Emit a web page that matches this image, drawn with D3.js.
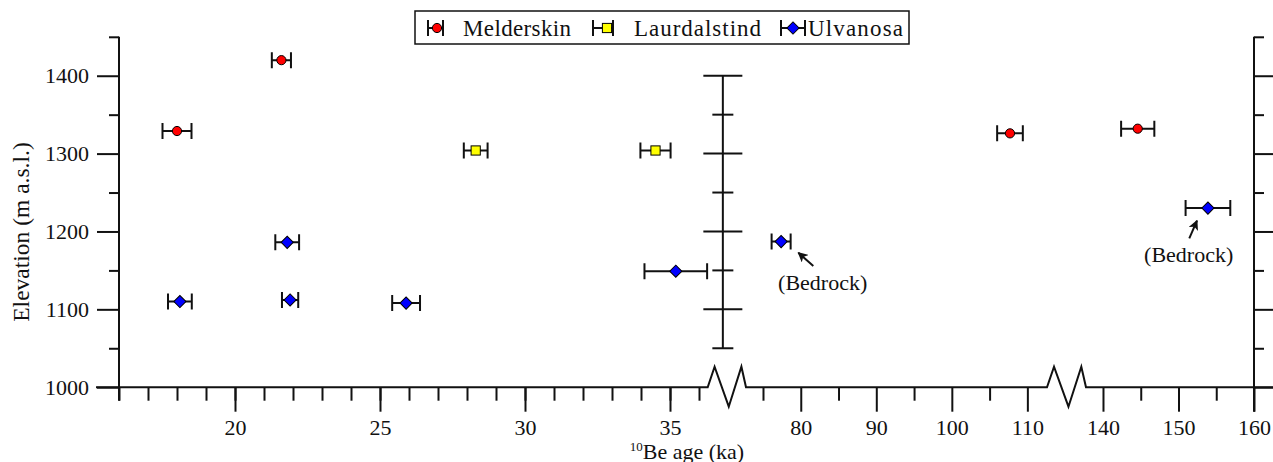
<!DOCTYPE html>
<html>
<head>
<meta charset="utf-8">
<script src="https://cdn.jsdelivr.net/npm/d3@7"></script>
<style>
  html, body { margin: 0; padding: 0; background: #fff; }
  svg { display: block; }
</style>
</head>
<body>
<svg id="chart" width="1273" height="462"></svg>
<script>
// ages in ka, 1-sigma errors in ka, elevations in m a.s.l.
const melderskinAge = [21.6, 18.0, 107.7, 144.6];
const melderskinErr = [0.33, 0.5, 1.7, 2.2];
const melderskinElev = [1420, 1329, 1326, 1332];

const laurdalstindAge = [28.3, 34.5];
const laurdalstindErr = [0.41, 0.52];
const laurdalstindElev = [1304, 1304];

const ulvanosaAge = [21.8, 18.1, 21.9, 25.9, 35.2, 77.4, 153.9];
const ulvanosaErr = [0.41, 0.41, 0.28, 0.48, 1.08, 1.26, 2.96];
const ulvanosaElev = [1186, 1110, 1112, 1108, 1149, 1187, 1230];

const seriesNames = ['Melderskin', 'Laurdalstind', 'Ulvanosa'];

// x axis pieces (broken axis)
const segDomains = [[16, 36.3], [72.75, 112.6], [137.75, 160]];
const segMajor = [[20, 25, 30, 35], [80, 90, 100, 110], [140, 150, 160]];
const segMinor = [d3.range(16, 37), [75, 85, 95, 105], [145, 155]];

const yMajor = [1000, 1100, 1200, 1300, 1400];
const yMinor = [1050, 1150, 1250, 1350, 1450];
const midMajor = [1100, 1200, 1300, 1400];
const midMinor = [1050, 1150, 1250, 1350];

// bedrock notes: [label x, label y, arrow tail x, tail y, tip x, tip y]
const notes = [
  [82.9, 1125, 81.66, 1155.6, 79.68, 1172.7],
  [151.35, 1160.8, 151.43, 1191.2, 152.45, 1213.8]
];

const FONT = '"Liberation Serif", "Times New Roman", serif';
const svg = d3.select('#chart');

const y = d3.scaleLinear().domain([1000, 1450]).range([387.2, 36.8]);
const segs = [
  d3.scaleLinear().domain(segDomains[0]).range([119, 707.7]),
  d3.scaleLinear().domain(segDomains[1]).range([746, 1047]),
  d3.scaleLinear().domain(segDomains[2]).range([1086, 1254])
];
const x = function (v) {
  if (v <= segDomains[0][1]) return segs[0](v);
  if (v <= segDomains[1][1]) return segs[1](v);
  return segs[2](v);
};

const y0 = y(1000);
const axisColor = '#111';

// ---- x axis line with zigzag breaks
const zig = function (x0, x1) {
  const w = x1 - x0;
  return [[x0, y0], [x0 + 0.18 * w, y0 - 20.5], [x0 + 0.55 * w, y0 + 19.5], [x0 + 0.88 * w, y0 - 20.5], [x1, y0]];
};
const axisPts = [[96, y0]]
  .concat(zig(segs[0].range()[1], segs[1].range()[0]))
  .concat(zig(segs[1].range()[1], segs[2].range()[0]))
  .concat([[1273, y0]]);
svg.append('path')
  .attr('d', d3.line()(axisPts))
  .attr('fill', 'none')
  .attr('stroke', axisColor)
  .attr('stroke-width', 2)
  .attr('stroke-linejoin', 'miter');

segs.forEach((s, i) => {
  const gMin = svg.append('g')
    .attr('transform', 'translate(0,' + y0 + ')')
    .call(d3.axisBottom(s).tickValues(segMinor[i]).tickSize(13.5).tickFormat(''));
  const gMaj = svg.append('g')
    .attr('transform', 'translate(0,' + y0 + ')')
    .call(d3.axisBottom(s).tickValues(segMajor[i]).tickSize(24.5).tickPadding(8).tickFormat(d3.format('d')));
  [gMin, gMaj].forEach((g) => {
    g.select('.domain').remove();
    g.selectAll('line').attr('stroke', axisColor).attr('stroke-width', 2);
    g.selectAll('text').attr('font-family', FONT).attr('font-size', 22).attr('fill', '#111');
  });
});

// ---- left axis
svg.append('line')
  .attr('x1', 119).attr('x2', 119)
  .attr('y1', y(1450)).attr('y2', y0 + 13.5)
  .attr('stroke', axisColor).attr('stroke-width', 2);
const gL1 = svg.append('g').attr('transform', 'translate(119,0)')
  .call(d3.axisLeft(y).tickValues(yMinor).tickSize(10).tickFormat(''));
const gL2 = svg.append('g').attr('transform', 'translate(119,0)')
  .call(d3.axisLeft(y).tickValues(yMajor).tickSize(22).tickPadding(8).tickFormat(d3.format('d')));

// ---- right axis
svg.append('line')
  .attr('x1', 1254).attr('x2', 1254)
  .attr('y1', y(1450)).attr('y2', y0 + 24.5)
  .attr('stroke', axisColor).attr('stroke-width', 2);
const gR1 = svg.append('g').attr('transform', 'translate(1254,0)')
  .call(d3.axisRight(y).tickValues(yMinor).tickSize(10).tickFormat(''));
const gR2 = svg.append('g').attr('transform', 'translate(1254,0)')
  .call(d3.axisRight(y).tickValues(yMajor).tickSize(22).tickFormat(''));

[gL1, gL2, gR1, gR2].forEach((g) => {
  g.select('.domain').remove();
  g.selectAll('line').attr('stroke', axisColor).attr('stroke-width', 2);
  g.selectAll('text').attr('font-family', FONT).attr('font-size', 22).attr('fill', '#111');
});

// ---- middle axis inside the first break
const midX = (segs[0].range()[1] + segs[1].range()[0]) / 2 - 4;
const mid = svg.append('g');
mid.append('line')
  .attr('x1', midX).attr('x2', midX)
  .attr('y1', y(1400)).attr('y2', y(1050))
  .attr('stroke', axisColor).attr('stroke-width', 2);
mid.selectAll('.mj').data(midMajor).enter().append('line')
  .attr('x1', midX - 19.5).attr('x2', midX + 19.5)
  .attr('y1', (d) => y(d)).attr('y2', (d) => y(d))
  .attr('stroke', axisColor).attr('stroke-width', 2);
mid.selectAll('.mn').data(midMinor).enter().append('line')
  .attr('x1', midX - 10.5).attr('x2', midX + 10.5)
  .attr('y1', (d) => y(d)).attr('y2', (d) => y(d))
  .attr('stroke', axisColor).attr('stroke-width', 2);

// ---- axis titles
const xt = svg.append('text')
  .attr('x', 687).attr('y', 458.5)
  .attr('text-anchor', 'middle')
  .attr('font-family', FONT).attr('font-size', 22).attr('fill', '#111');
xt.append('tspan').attr('font-size', 13).attr('dy', -7.5).text('10');
xt.append('tspan').attr('dy', 7.5).text('Be age (ka)');

svg.append('text')
  .attr('transform', 'translate(29,232) rotate(-90)')
  .attr('text-anchor', 'middle')
  .attr('font-family', FONT).attr('font-size', 23.5).attr('fill', '#111')
  .text('Elevation (m a.s.l.)');

// ---- markers
const drawMarker = function (g, kind, cx, cy) {
  if (kind === 0) {
    g.append('circle').attr('cx', cx).attr('cy', cy).attr('r', 4.6)
      .attr('fill', '#ff0000').attr('stroke', '#000').attr('stroke-width', 1);
  } else if (kind === 1) {
    g.append('rect').attr('x', cx - 4.6).attr('y', cy - 4.6).attr('width', 9.2).attr('height', 9.2)
      .attr('fill', '#ffff00').attr('stroke', '#000').attr('stroke-width', 1);
  } else {
    g.append('path')
      .attr('d', d3.symbol().type(d3.symbolSquare).size(74)())
      .attr('transform', 'translate(' + cx + ',' + cy + ') rotate(45)')
      .attr('fill', '#0000ff').attr('stroke', '#000').attr('stroke-width', 1);
  }
};

const drawErrBar = function (g, xl, xr, cy) {
  g.append('path')
    .attr('d', 'M' + xl + ',' + (cy - 8) + 'V' + (cy + 8) + 'M' + xl + ',' + cy + 'H' + xr +
      'M' + xr + ',' + (cy - 8) + 'V' + (cy + 8))
    .attr('fill', 'none').attr('stroke', '#111').attr('stroke-width', 2);
};

const series = [
  [melderskinAge, melderskinErr, melderskinElev],
  [laurdalstindAge, laurdalstindErr, laurdalstindElev],
  [ulvanosaAge, ulvanosaErr, ulvanosaElev]
];

const plot = svg.append('g');
series.forEach((s, k) => {
  s[0].forEach((age, i) => {
    const g = plot.append('g');
    drawErrBar(g, x(age - s[1][i]), x(age + s[1][i]), y(s[2][i]));
    drawMarker(g, k, x(age), y(s[2][i]));
  });
});

// ---- bedrock notes
svg.append('defs').append('marker')
  .attr('id', 'head')
  .attr('viewBox', '0 0 10 10')
  .attr('refX', 9).attr('refY', 5)
  .attr('markerWidth', 5).attr('markerHeight', 5)
  .attr('orient', 'auto')
  .append('path').attr('d', 'M0,0 L10,5 L0,10 L2.5,5 Z').attr('fill', '#111');

notes.forEach((n) => {
  svg.append('line')
    .attr('x1', x(n[2])).attr('y1', y(n[3]))
    .attr('x2', x(n[4])).attr('y2', y(n[5]))
    .attr('stroke', '#111').attr('stroke-width', 2)
    .attr('marker-end', 'url(#head)');
  svg.append('text')
    .attr('x', x(n[0])).attr('y', y(n[1]))
    .attr('text-anchor', 'middle')
    .attr('font-family', FONT).attr('font-size', 22).attr('fill', '#111')
    .text('(Bedrock)');
});

// ---- legend
const legend = svg.append('g');
legend.append('rect')
  .attr('x', 415).attr('y', 11).attr('width', 494).attr('height', 33)
  .attr('fill', '#fff').attr('stroke', '#111').attr('stroke-width', 1.5);
const legBar = [[428, 443, 437], [593, 613, 607], [781, 805, 793]];
const legText = [463, 634, 808];
const legWidth = [108, 127, 95];
seriesNames.forEach((name, k) => {
  const g = legend.append('g');
  drawErrBar(g, legBar[k][0], legBar[k][1], 28);
  drawMarker(g, k, legBar[k][2], 28);
  g.append('text')
    .attr('x', legText[k]).attr('y', 35.5)
    .attr('font-family', FONT).attr('font-size', 23).attr('fill', '#111')
    .attr('textLength', legWidth[k]).attr('lengthAdjust', 'spacing')
    .text(name);
});
</script>
</body>
</html>
